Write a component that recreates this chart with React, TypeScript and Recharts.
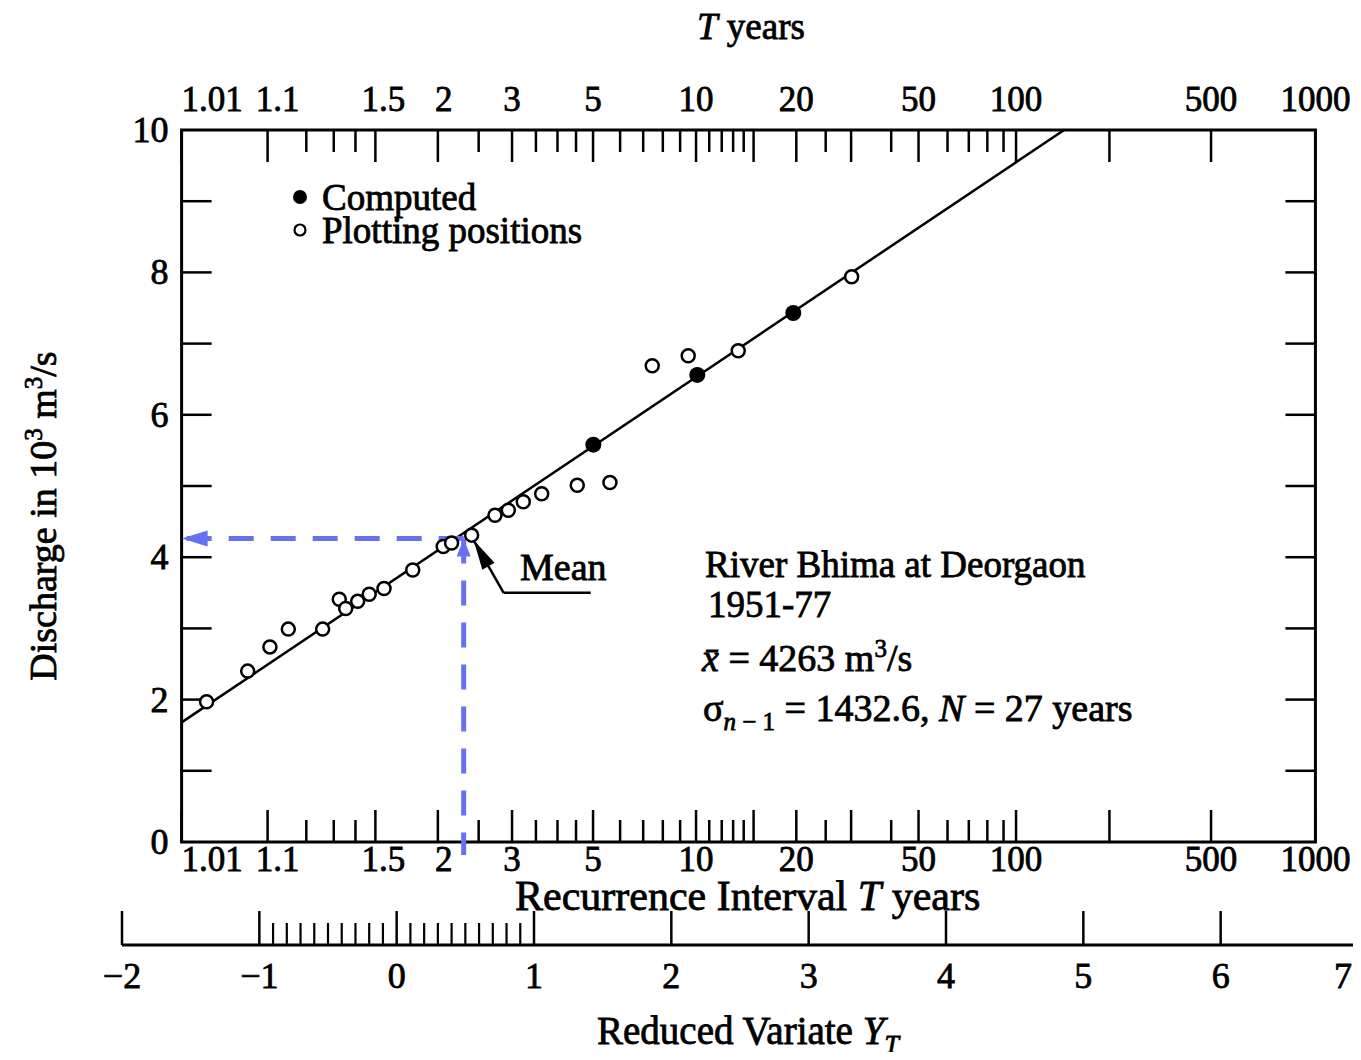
import React from 'react'
import {
  ComposedChart,
  XAxis,
  YAxis,
  Line,
  Scatter,
  ReferenceArea,
  ReferenceLine,
  ReferenceDot,
  Legend,
} from 'recharts'

// x = position on the reduced variate scale, y = discharge in 10^3 m3/s
const plotX = [-1.384, -1.085, -0.923, -0.789, -0.539, -0.418, -0.371, -0.284, -0.2, -0.092, 0.117, 0.339, 0.4, 0.546, 0.716, 0.813, 0.922, 1.056, 1.315, 1.553, 1.861, 2.123, 2.487, 3.313]
const plotY = [1.97, 2.4, 2.74, 2.99, 2.99, 3.41, 3.28, 3.38, 3.48, 3.56, 3.82, 4.15, 4.2, 4.31, 4.59, 4.66, 4.78, 4.89, 5.01, 5.05, 6.69, 6.83, 6.9, 7.94]
const compX = [1.432, 2.189, 2.888]
const compY = [5.58, 6.56, 7.43]
const fitX = [-1.566, 4.86]
const fitY = [1.68, 10]
const meanX = 0.488
const meanQ = 4.263

// recurrence interval scale (T years) as printed on the paper
const tLabels = ['1.01', '1.1', '1.5', '2', '3', '5', '10', '20', '50', '100', '500', '1000']
const tLabelPos = [-1.566, -0.94, -0.155, 0.3, 0.84, 1.43, 2.18, 2.91, 3.8, 4.51, 5.93, 6.69]
const tLongPos = [2.599, 3.309, 5.19]
const tShortPos = [-0.658, -0.458, -0.3, 0.597, 1.014, 1.171, 1.306, 1.627, 1.795, 1.938, 2.064, 2.276, 2.367, 2.45, 2.527, 3.124, 3.601, 4.011, 4.166, 4.301, 4.419]

// reduced variate scale
const rvMajor = [-2, -1, 0, 1, 2, 3, 4, 5, 6, 7]
const rvMinor = [-0.9, -0.8, -0.7, -0.6, -0.5, -0.4, -0.3, -0.2, -0.1, 0.1, 0.2, 0.3, 0.4, 0.5, 0.6, 0.7, 0.8, 0.9]

const qTicks = [1, 2, 3, 4, 5, 6, 7, 8, 9]
const qLabels = [0, 2, 4, 6, 8, 10]

const BOX_L = -1.566
const BOX_R = 6.69
const RV_LEVEL = -1.447
const BLUE_BOTTOM = -0.183
const BLUE = '#6670f2'
const FONT = '"Liberation Serif", "Times New Roman", serif'
const INK = { fill: '#000', stroke: '#000', strokeWidth: 0.8, fontFamily: FONT }
// the printed labels sit a little right of their ticks at the low end
const labelNudge: Record<string, number> = { '1.1': 10, '1.5': 8, '2': 6 }

const same = (a: number, b: number) => Math.abs(a - b) < 1e-6

const renderTTick = (side: 'top' | 'bottom') => (p: any) => {
  const v = p.payload.value
  const i = tLabelPos.findIndex((q) => same(q, v))
  const long = i >= 0 || tLongPos.some((q) => same(q, v))
  const len = long ? 32 : 22
  const dir = side === 'top' ? 1 : -1
  const lab = i >= 0 ? tLabels[i] : ''
  return (
    <g>
      <line x1={p.x} x2={p.x} y1={p.y} y2={p.y + dir * len} stroke="#000" strokeWidth={2.5} />
      {lab && (
        <text
          x={p.x + (labelNudge[lab] || 0)}
          y={side === 'top' ? p.y - 19 : p.y + 29}
          textAnchor={i === 0 ? 'start' : 'middle'}
          fontSize={35}
          {...INK}
        >
          {lab}
        </text>
      )}
    </g>
  )
}

const arrowLine = (head: 'start' | 'end', color: string, dashed: boolean, hl: number, hw: number) => (p: any) => {
  const { x1, y1, x2, y2 } = p
  const [tx, ty, fx, fy] = head === 'end' ? [x2, y2, x1, y1] : [x1, y1, x2, y2]
  const L = Math.hypot(tx - fx, ty - fy) || 1
  const ux = (tx - fx) / L
  const uy = (ty - fy) / L
  const bx = tx - ux * hl
  const by = ty - uy * hl
  return (
    <g>
      <line
        x1={x1}
        y1={y1}
        x2={x2}
        y2={y2}
        stroke={color}
        strokeWidth={dashed ? 5 : 2.5}
        strokeDasharray={dashed ? '25 17' : undefined}
      />
      <polygon points={`${tx},${ty} ${bx - uy * hw},${by + ux * hw} ${bx + uy * hw},${by - ux * hw}`} fill={color} />
    </g>
  )
}

const openDot = (p: any) => <circle cx={p.cx} cy={p.cy} r={6.5} fill="#fff" stroke="#000" strokeWidth={2.5} />
const fullDot = (p: any) => <circle cx={p.cx} cy={p.cy} r={8} fill="#000" />

const renderLegend = (props: any) => {
  const items = (props.payload || []).filter((e: any) => e.type !== 'none')
  return (
    <svg width={360} height={90}>
      {items.map((e: any, i: number) => (
        <g key={e.value}>
          {e.value === 'Computed' ? (
            <circle cx={10} cy={22 + i * 33} r={7} fill="#000" />
          ) : (
            <circle cx={10} cy={22 + i * 33} r={5.5} fill="#fff" stroke="#000" strokeWidth={2.2} />
          )}
          <text x={32} y={35 + i * 33} fontSize={37} {...INK}>
            {e.value}
          </text>
        </g>
      ))}
    </svg>
  )
}

export default function App() {
  const plotData = plotX.map((x, i) => ({ x, y: plotY[i] }))
  const compData = compX.map((x, i) => ({ x, y: compY[i] }))
  const fitData = fitX.map((x, i) => ({ x, y: fitY[i] }))
  const tTickPos = [...tLabelPos, ...tLongPos, ...tShortPos].sort((a, b) => a - b)
  const ids = { xAxisId: 'main', yAxisId: 'main' }

  return (
    <div style={{ margin: -8, width: 1361, height: 1060, background: '#fff' }}>
      <ComposedChart width={1361} height={1060} margin={{ top: 70, right: 3, bottom: 158, left: 122 }}>
        <XAxis xAxisId="main" type="number" dataKey="x" domain={[-2, 7]} allowDataOverflow hide />
        <YAxis yAxisId="main" type="number" dataKey="y" domain={[0, 10]} allowDataOverflow hide />
        <XAxis
          xAxisId="top"
          orientation="top"
          type="number"
          dataKey="x"
          domain={[-2, 7]}
          allowDataOverflow
          ticks={tTickPos}
          interval={0}
          tickSize={0}
          tickMargin={0}
          axisLine={false}
          tickLine={false}
          height={60}
          tick={renderTTick('top')}
        />
        <XAxis
          xAxisId="bottom"
          orientation="bottom"
          type="number"
          dataKey="x"
          domain={[-2, 7]}
          allowDataOverflow
          ticks={tTickPos}
          interval={0}
          tickSize={0}
          tickMargin={0}
          axisLine={false}
          tickLine={false}
          height={60}
          tick={renderTTick('bottom')}
        />

        <ReferenceArea {...ids} x1={BOX_L} x2={BOX_R} y1={0} y2={10} fill="none" fillOpacity={0} stroke="#000" strokeWidth={3} ifOverflow="visible" />

        {qTicks.map((v) => (
          <ReferenceDot key={'l' + v} {...ids} x={BOX_L} y={v} ifOverflow="visible"
            shape={(p: any) => <line x1={p.cx} x2={p.cx + 30} y1={p.cy} y2={p.cy} stroke="#000" strokeWidth={2.5} />} />
        ))}
        {qTicks.map((v) => (
          <ReferenceDot key={'r' + v} {...ids} x={BOX_R} y={v} ifOverflow="visible"
            shape={(p: any) => <line x1={p.cx} x2={p.cx - 30} y1={p.cy} y2={p.cy} stroke="#000" strokeWidth={2.5} />} />
        ))}
        {qLabels.map((v) => (
          <ReferenceDot key={'q' + v} {...ids} x={BOX_L} y={v} ifOverflow="visible"
            shape={(p: any) => (
              <text x={p.cx - 13} y={p.cy + 12} textAnchor="end" fontSize={36} {...INK}>{v}</text>
            )} />
        ))}

        <ReferenceLine {...ids} segment={[{ x: -2, y: RV_LEVEL }, { x: 7, y: RV_LEVEL }]} stroke="#000" strokeWidth={3} ifOverflow="visible" />
        {rvMajor.map((v, i) => (
          <ReferenceDot key={'rv' + v} {...ids} x={v} y={RV_LEVEL} ifOverflow="visible"
            shape={(p: any) => (
              <g>
                <line x1={p.cx} x2={p.cx} y1={p.cy} y2={p.cy - 34} stroke="#000" strokeWidth={2.5} />
                <text
                  x={i === rvMajor.length - 1 ? p.cx - 6 : p.cx}
                  y={p.cy + 43}
                  textAnchor={i === rvMajor.length - 1 ? 'end' : 'middle'}
                  fontSize={36}
                  {...INK}
                >
                  {v < 0 ? '\u2212' + Math.abs(v) : v}
                </text>
              </g>
            )} />
        ))}
        {rvMinor.map((v) => (
          <ReferenceDot key={'rm' + v} {...ids} x={v} y={RV_LEVEL} ifOverflow="visible"
            shape={(p: any) => <line x1={p.cx} x2={p.cx} y1={p.cy} y2={p.cy - 22} stroke="#000" strokeWidth={2.2} />} />
        ))}

        <Line {...ids} data={fitData} dataKey="y" stroke="#000" strokeWidth={2.5} dot={false} legendType="none" isAnimationActive={false} />
        <Scatter {...ids} name="Computed" data={compData} dataKey="y" shape={fullDot} isAnimationActive={false} />
        <Scatter {...ids} name="Plotting positions" data={plotData} dataKey="y" shape={openDot} isAnimationActive={false} />

        <ReferenceLine {...ids} segment={[{ x: meanX, y: meanQ }, { x: BOX_L, y: meanQ }]} ifOverflow="visible"
          shape={arrowLine('end', BLUE, true, 26, 8)} />
        <ReferenceLine {...ids} segment={[{ x: meanX, y: meanQ }, { x: meanX, y: BLUE_BOTTOM }]} ifOverflow="visible"
          shape={arrowLine('start', BLUE, true, 18, 7)} />
        <ReferenceLine {...ids} segment={[{ x: 1.413, y: 3.5 }, { x: 0.779, y: 3.5 }]} stroke="#000" strokeWidth={2.5} ifOverflow="visible" />
        <ReferenceLine {...ids} segment={[{ x: 0.779, y: 3.5 }, { x: 0.56, y: 4.24 }]} ifOverflow="visible"
          shape={arrowLine('end', '#000', false, 30, 7)} />

        <Legend layout="vertical" align="center" verticalAlign="middle"
          wrapperStyle={{ top: 175, left: 290, width: 360, height: 90 }} content={renderLegend} />

        <text x={697} y={39} fontSize={37} {...INK}>
          <tspan fontStyle="italic">T</tspan> years
        </text>
        <text x={515} y={910} fontSize={42} {...INK}>
          Recurrence Interval <tspan fontStyle="italic">T</tspan> years
        </text>
        <text x={597} y={1044} fontSize={39} {...INK}>
          Reduced Variate <tspan fontStyle="italic">Y</tspan>
          <tspan fontStyle="italic" fontSize={26} dy={9}>T</tspan>
        </text>
        <text transform="translate(56,516) rotate(-90)" textAnchor="middle" fontSize={38} {...INK}>
          Discharge in 10<tspan fontSize={25} dy={-14}>3</tspan>
          <tspan dy={14}> m</tspan>
          <tspan fontSize={25} dy={-14}>3</tspan>
          <tspan dy={14}>/s</tspan>
        </text>
        <text x={520} y={580} fontSize={38} {...INK}>Mean</text>
        <text x={705} y={577} fontSize={37} {...INK}>River Bhima at Deorgaon</text>
        <text x={708} y={617} fontSize={37} {...INK}>1951-77</text>
        <text x={702} y={671} fontSize={38} {...INK}>
          <tspan fontStyle="italic">x&#772;</tspan> = 4263 m
          <tspan fontSize={25} dy={-14}>3</tspan>
          <tspan dy={14}>/s</tspan>
        </text>
        <text x={703} y={721} fontSize={38} {...INK}>
          σ<tspan fontSize={25} dy={9}><tspan fontStyle="italic">n</tspan> − 1</tspan>
          <tspan dy={-9}> = 1432.6, </tspan>
          <tspan fontStyle="italic">N</tspan> = 27 years
        </text>
      </ComposedChart>
    </div>
  )
}
